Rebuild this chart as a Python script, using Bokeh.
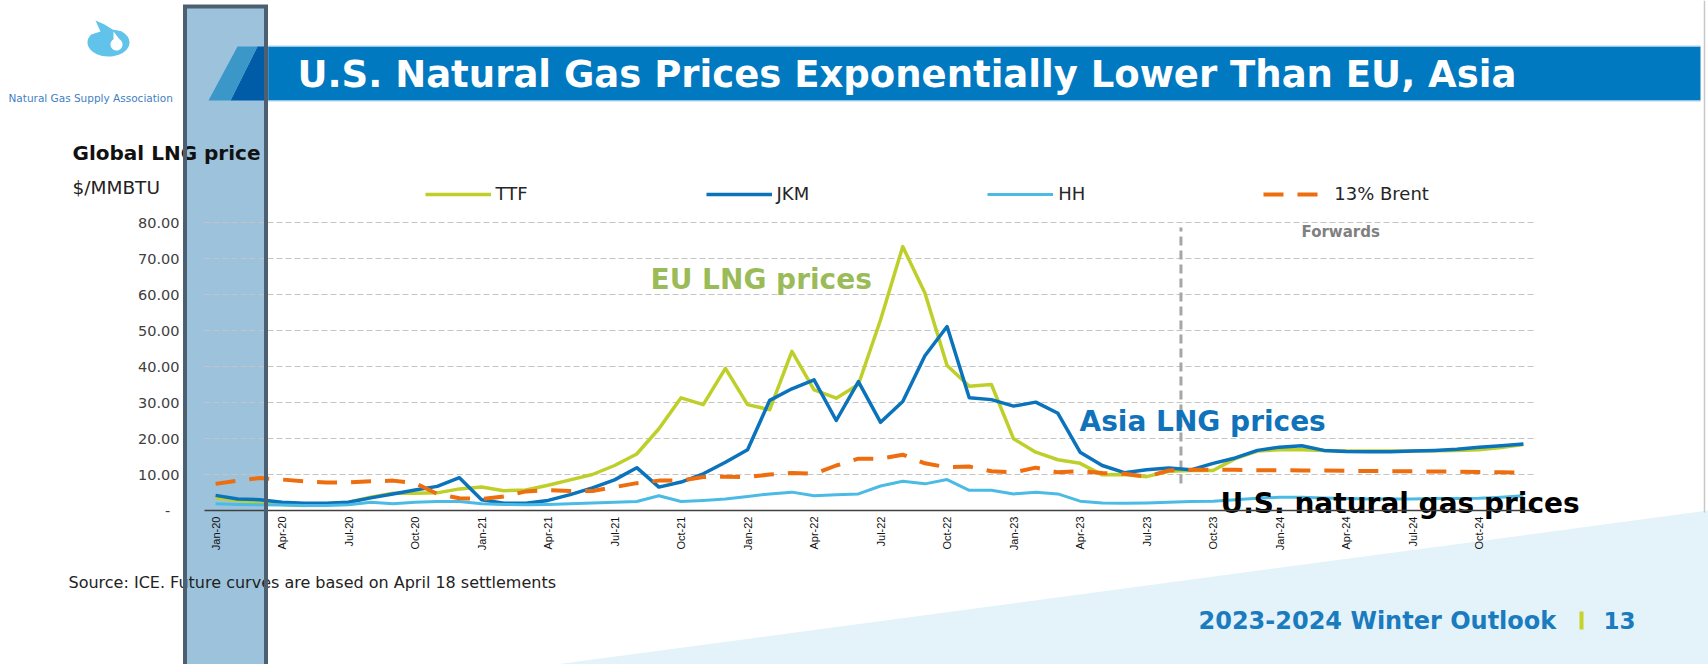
import math
import numpy as np
from bokeh.plotting import figure
from bokeh.models import Range1d, FixedTicker, Legend, LegendItem
from bokeh.core.properties import value
from bokeh.embed import file_html
from bokeh.resources import INLINE

# ---------------- data ----------------
month_names = ["Jan", "Feb", "Mar", "Apr", "May", "Jun",
               "Jul", "Aug", "Sep", "Oct", "Nov", "Dec"]
years = ["20", "21", "22", "23", "24"]
months = [f"{m}-{y}" for y in years for m in month_names]   # Jan-20 .. Dec-24

tick_labels = ["Jan-20", "Apr-20", "Jul-20", "Oct-20", "Jan-21", "Apr-21",
               "Jul-21", "Oct-21", "Jan-22", "Apr-22", "Jul-22", "Oct-22",
               "Jan-23", "Apr-23", "Jul-23", "Oct-23", "Jan-24", "Apr-24",
               "Jul-24", "Oct-24"]

ttf = [3.5, 2.8, 2.3, 1.7, 1.4, 1.9, 2.3, 3.7, 4.8, 4.8,
       4.9, 6.0, 6.5, 5.5, 5.7, 7.0, 8.5, 10.0, 12.5, 15.7,
       22.7, 31.3, 29.4, 39.5, 29.4, 28.0, 44.2, 33.5, 31.2, 35.0,
       53.0, 73.3, 60.4, 40.3, 34.5, 35.0, 19.9, 16.2, 14.1, 13.1,
       9.9, 10.0, 9.4, 10.9, 11.1, 11.1, 14.4, 16.5, 16.9, 16.9,
       16.7, 16.5, 16.5, 16.5, 16.5, 16.6, 16.7, 16.9, 17.5, 18.3]

jkm = [4.2, 3.2, 3.0, 2.3, 2.0, 2.0, 2.3, 3.5, 4.6, 5.7,
       6.7, 9.1, 3.0, 2.0, 2.0, 2.8, 4.4, 6.3, 8.5, 11.9,
       6.5, 7.9, 10.2, 13.4, 16.9, 30.6, 33.8, 36.3, 25.0, 35.8,
       24.5, 30.3, 43.0, 51.1, 31.3, 30.8, 29.0, 30.1, 27.0, 16.2,
       12.5, 10.5, 11.3, 11.8, 11.3, 13.1, 14.6, 16.7, 17.6, 18.0,
       16.7, 16.4, 16.3, 16.3, 16.5, 16.7, 17.0, 17.6, 18.0, 18.5]

hh = [1.9, 1.7, 1.6, 1.5, 1.4, 1.4, 1.6, 2.3, 1.9, 2.3,
      2.5, 2.5, 1.9, 1.7, 1.6, 1.7, 1.9, 2.1, 2.3, 2.5,
      4.1, 2.5, 2.8, 3.2, 3.9, 4.6, 5.1, 4.1, 4.4, 4.6,
      6.8, 8.1, 7.4, 8.6, 5.6, 5.6, 4.6, 5.1, 4.6, 2.6,
      2.1, 2.0, 2.1, 2.3, 2.5, 2.6, 3.0, 3.4, 3.7, 3.7,
      3.5, 3.3, 3.2, 3.2, 3.2, 3.3, 3.3, 3.4, 3.7, 4.1]

brent13 = [7.4, 8.3, 9.0, 8.6, 8.1, 7.8, 7.8, 8.1, 8.3, 7.6,
           4.6, 3.4, 3.2, 3.9, 5.3, 5.7, 5.4, 5.4, 6.5, 7.6,
           8.3, 8.3, 9.3, 9.4, 9.3, 10.0, 10.4, 10.2, 12.5, 14.4,
           14.4, 15.5, 13.1, 12.0, 12.2, 10.9, 10.6, 11.9, 10.6, 10.9,
           10.4, 10.2, 9.4, 11.1, 11.3, 11.3, 11.3, 11.2, 11.2, 11.1,
           11.1, 11.0, 11.0, 10.9, 10.9, 10.8, 10.8, 10.7, 10.6, 10.5]

series_names = ["TTF", "JKM", "HH", "13% Brent"]
y_ticks = [0, 10, 20, 30, 40, 50, 60, 70, 80]
forwards_start = 43.55          # boundary between history and forwards (month index)

# ---------------- layout helpers (page pixels -> data) ----------------
FONT = "DejaVu Sans"
W, H, OFF = 1708, 664, 0
n = len(months)
PX_L, PX_R = 204.0, 1534.0      # plot area edges (category -0.5 .. n-0.5)
PY_0, PY_PER = 510.0, 3.6       # y pixel of value 0, pixels per unit


def X(px):
    return -0.5 + (px - PX_L) * n / (PX_R - PX_L)


def Y(py):
    return (PY_0 - py) / PY_PER


p = figure(width=W, height=H,
           x_range=Range1d(X(OFF), X(OFF + W)),
           y_range=Range1d(Y(OFF + H), Y(OFF)),
           output_backend="svg", toolbar_location=None, title=None,
           min_border=0, min_border_left=0, min_border_right=0,
           min_border_top=0, min_border_bottom=0,
           outline_line_color=None, background_fill_color="white",
           border_fill_color="white")
p.xgrid.visible = False
p.ygrid.visible = False

# background wedge bottom-right
p.patch(x=[X(555), X(1708), X(1708)], y=[Y(664), Y(510), Y(664)],
        fill_color="#e3f3f9", line_color=None)
p.segment(x0=[X(1704)], x1=[X(1704)], y0=[Y(0)], y1=[Y(512)],
          line_color="#c8c8c8", line_width=1.5)

# translucent vertical band (fill)
band_l, band_r, band_t, band_b = 184.5, 265.5, 6, 664
p.quad(left=X(band_l - 1.5), right=X(band_r + 1.5), top=Y(band_t), bottom=Y(band_b),
       fill_color="#9dc3dc", line_color=None)

# title bar
p.quad(left=X(268), right=X(1700), top=Y(46), bottom=Y(100),
       fill_color="#0079c1", line_color=None)
p.patch(x=[X(230), X(257), X(268), X(268)], y=[Y(100), Y(46), Y(46), Y(100)],
        fill_color="#005ca6", line_color=None)
p.patch(x=[X(208), X(237), X(257), X(230)], y=[Y(100), Y(46), Y(46), Y(100)],
        fill_color="#3b97c7", line_color=None)
p.segment(x0=[X(268), X(268)], x1=[X(1700), X(1700)], y0=[Y(45.5), Y(100.5)],
          y1=[Y(45.5), Y(100.5)], line_color="#a9d3ec", line_width=1)
p.text(x=[X(297)], y=[Y(74)], text=["U.S. Natural Gas Prices Exponentially Lower Than EU, Asia"],
       text_font=value(FONT), text_font_size="37px", text_font_style="bold",
       text_color="white", text_align="left", text_baseline="middle")

# logo (flame)
th = np.linspace(math.radians(55), math.radians(-215), 50)
fx = [X(v) for v in 108 + 21 * np.cos(th)] + [X(100), X(95), X(104), X(112)]
fy = [Y(v) for v in 42 - 14 * np.sin(th)] + [Y(31), Y(20), Y(24), Y(29)]
p.patch(x=fx, y=fy, fill_color="#62c3ea", line_color=None)
th2 = np.linspace(math.radians(60), math.radians(-240), 40)
ix = [X(v) for v in 116 + 6 * np.cos(th2)] + [X(113)]
iy = [Y(v) for v in 44 - 6 * np.sin(th2)] + [Y(31)]
p.patch(x=ix, y=iy, fill_color="white", line_color=None)
p.text(x=[X(8)], y=[Y(97)], text=["Natural Gas Supply Association"],
       text_font=value(FONT), text_font_size="10.5px", text_color="#3f7fc4",
       text_align="left", text_baseline="middle")

# chart header texts
p.text(x=[X(72)], y=[Y(152)], text=["Global LNG price"], text_font=value(FONT),
       text_font_size="20px", text_font_style="bold", text_color="#111111",
       text_align="left", text_baseline="middle")
p.text(x=[X(72)], y=[Y(187)], text=["$/MMBTU"], text_font=value(FONT),
       text_font_size="18.5px", text_color="#222222",
       text_align="left", text_baseline="middle")

# gridlines
grid_vals = [v for v in y_ticks if v > 0]
p.segment(x0=[-0.5] * len(grid_vals), x1=[n - 0.5] * len(grid_vals),
          y0=grid_vals, y1=grid_vals, line_color="#c4c4c4", line_width=1,
          line_dash="6 3")

# forwards divider
p.segment(x0=[forwards_start], x1=[forwards_start], y0=[7.5], y1=[78.6],
          line_color="#a6a6a6", line_width=3, line_dash="9 5")
p.text(x=[X(1301)], y=[77.5], text=["Forwards"], text_font=value(FONT),
       text_font_size="15px", text_font_style="bold", text_color="#808080",
       text_align="left", text_baseline="middle")

# series
xs = list(range(n))
r_ttf = p.line(xs, ttf, line_color="#bfcf2a", line_width=3.5, line_join="round")
r_jkm = p.line(xs, jkm, line_color="#0a73bb", line_width=3.5, line_join="round")
r_hh = p.line(xs, hh, line_color="#4bbbe6", line_width=3, line_join="round")
r_br = p.line(xs, brent13, line_color="#ed6d0f", line_width=4, line_dash="20 14")

# annotations inside chart
p.text(x=[X(650)], y=[Y(279)], text=["EU LNG prices"], text_font=value(FONT),
       text_font_size="28px", text_font_style="bold", text_color="#9bbb59",
       text_align="left", text_baseline="middle")
p.text(x=[X(1079)], y=[Y(421)], text=["Asia LNG prices"], text_font=value(FONT),
       text_font_size="28px", text_font_style="bold", text_color="#0f72ba",
       text_align="left", text_baseline="middle")
p.text(x=[X(1220)], y=[Y(503)], text=["U.S. natural gas prices"], text_font=value(FONT),
       text_font_size="28px", text_font_style="bold", text_color="#000000",
       text_align="left", text_baseline="middle")

# axes (drawn inside the frame at fixed data locations)
xa = p.xaxis[0]
xa.fixed_location = 0
xa.bounds = (-0.5, n - 0.5)
tick_idx = [months.index(t) for t in tick_labels]
xa.ticker = FixedTicker(ticks=tick_idx)
xa.major_label_overrides = {i: t for i, t in zip(tick_idx, tick_labels)}
xa.major_label_orientation = math.pi / 2
xa.major_tick_line_color = None
xa.minor_tick_line_color = None
xa.major_tick_in = 0
xa.major_tick_out = 0
xa.axis_line_color = "#404040"
xa.axis_line_width = 1.5
xa.major_label_standoff = 6
xa.major_label_text_font = "Liberation Sans"
xa.major_label_text_font_size = "11px"
xa.major_label_text_color = "#111111"

ya = p.yaxis[0]
ya.fixed_location = -0.5
ya.bounds = (0, max(y_ticks))
ya.ticker = FixedTicker(ticks=y_ticks)
ya.major_label_overrides = {v: (f"{v:.2f}" if v else "-\u00a0\u00a0") for v in y_ticks}
ya.axis_line_color = None
ya.major_tick_line_color = None
ya.minor_tick_line_color = None
ya.major_tick_in = 0
ya.major_tick_out = 0
ya.major_label_standoff = 25
ya.major_label_text_font = FONT
ya.major_label_text_font_size = "14.5px"
ya.major_label_text_color = "#404040"

# legend
legend = Legend(items=[LegendItem(label=nm, renderers=[r]) for nm, r in
                       zip(series_names, [r_ttf, r_jkm, r_hh, r_br])],
                orientation="horizontal", location=(424.5 - OFF, H - (194 - OFF) - 10),
                glyph_width=66, glyph_height=20, label_height=20,
                label_standoff=5, spacing=178, padding=0, margin=0,
                border_line_color=None, background_fill_alpha=0,
                label_text_font=FONT, label_text_font_size="18px",
                label_text_color="#262626")
p.add_layout(legend, "center")

# source and footer
p.text(x=[X(68)], y=[Y(582)], text=["Source: ICE. Future curves are based on April 18 settlements"],
       text_font=value(FONT), text_font_size="16px", text_color="#222222",
       text_align="left", text_baseline="middle")
p.text(x=[X(1198)], y=[Y(620)], text=["2023-2024 Winter Outlook"], text_font=value(FONT),
       text_font_size="24px", text_font_style="bold", text_color="#1a7bbf",
       text_align="left", text_baseline="middle")
p.quad(left=X(1579), right=X(1583), top=Y(611), bottom=Y(629),
       fill_color="#c5d32b", line_color=None)
p.text(x=[X(1603)], y=[Y(620)], text=["13"], text_font=value(FONT),
       text_font_size="23px", text_font_style="bold", text_color="#1a7bbf",
       text_align="left", text_baseline="middle")

# band borders on top
p.segment(x0=[X(band_l), X(band_r)], x1=[X(band_l), X(band_r)],
          y0=[Y(band_t), Y(band_t)], y1=[Y(band_b), Y(band_b)],
          line_color="#4c6072", line_width=4, level="overlay")
p.segment(x0=[X(band_l - 2)], x1=[X(band_r + 2)], y0=[Y(band_t)], y1=[Y(band_t)],
          line_color="#4c6072", line_width=4, level="overlay")

open("out.html", "w").write(file_html(p, INLINE))
